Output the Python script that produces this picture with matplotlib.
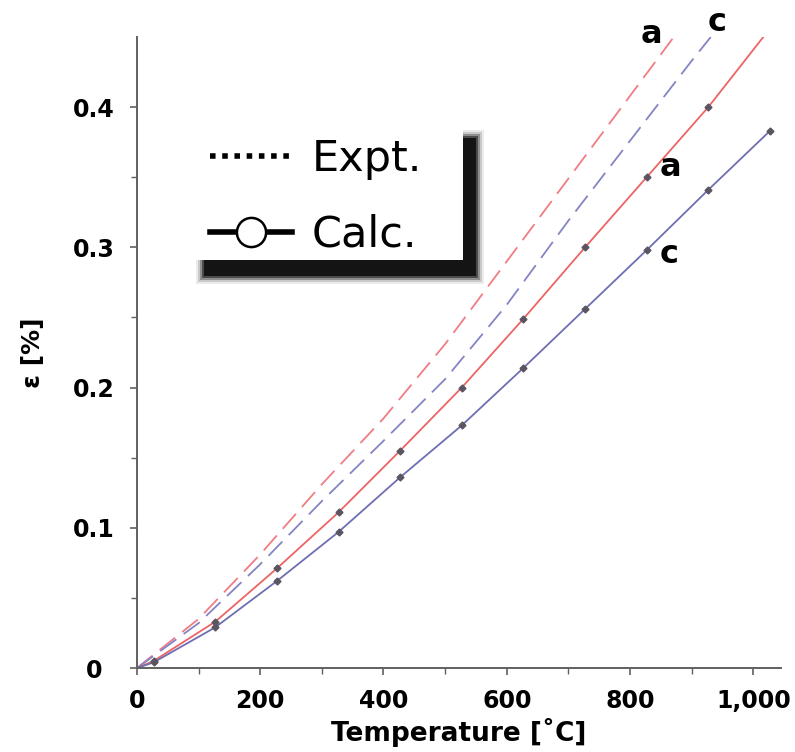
import matplotlib.pyplot as plt
from matplotlib.lines import Line2D
from matplotlib.patches import Rectangle

# Calculated points (T = 300 K ... 1300 K)
temp_calc = [0, 27, 127, 227, 327, 427, 527, 627, 727, 827, 927, 1027]
eps_calc_a = [0, 0.005, 0.033, 0.071, 0.111, 0.155, 0.200, 0.249, 0.300, 0.350, 0.400, 0.456]
eps_calc_c = [0, 0.004, 0.029, 0.062, 0.097, 0.136, 0.173, 0.214, 0.256, 0.298, 0.341, 0.383]

# Experimental curves
temp_expt_a = [0, 100, 200, 300, 400, 500, 600, 700, 800, 871]
eps_expt_a = [0, 0.035, 0.081, 0.131, 0.178, 0.231, 0.290, 0.349, 0.408, 0.450]
temp_expt_c = [0, 100, 200, 300, 400, 500, 600, 700, 800, 900, 931]
eps_expt_c = [0, 0.032, 0.074, 0.119, 0.162, 0.206, 0.259, 0.319, 0.376, 0.433, 0.450]

# curve labels: text, x, y
labels = [('a', 835, 0.452), ('c', 941, 0.460), ('a', 866, 0.357), ('c', 864, 0.295)]

red = '#ec6464'
blue = '#6e6eb2'
red_d = '#f07c84'
blue_d = '#8484c4'
mark = '#5a5560'

fig = plt.figure(figsize=(7.95, 7.52), dpi=100)
ax = fig.add_axes([0.1723, 0.1117, 0.8101, 0.8391])

ax.plot(temp_expt_a, eps_expt_a, color=red_d, lw=1.3, dashes=(11, 5))
ax.plot(temp_expt_c, eps_expt_c, color=blue_d, lw=1.3, dashes=(11, 5))
ax.plot(temp_calc, eps_calc_a, color=red, lw=1.3)
ax.plot(temp_calc, eps_calc_c, color=blue, lw=1.3)
ax.plot(temp_calc[1:], eps_calc_a[1:], ls='none', marker='D', ms=3.5, color=mark)
ax.plot(temp_calc[1:], eps_calc_c[1:], ls='none', marker='D', ms=3.5, color=mark)

for txt, x, y in labels:
    ax.text(x, y, txt, fontsize=23, fontweight='bold', ha='center', va='center',
            clip_on=False)

ax.set_xlim(0, 1045)
ax.set_ylim(0, 0.45)
ax.set_xticks([0, 200, 400, 600, 800, 1000])
ax.set_xticklabels(['0', '200', '400', '600', '800', '1,000'])
ax.set_xticks([100, 300, 500, 700, 900], minor=True)
ax.set_yticks([0, 0.1, 0.2, 0.3, 0.4])
ax.set_yticklabels(['0', '0.1', '0.2', '0.3', '0.4'])
ax.set_yticks([0.05, 0.15, 0.25, 0.35], minor=True)

for s in ['top', 'right']:
    ax.spines[s].set_visible(False)
for s in ['left', 'bottom']:
    ax.spines[s].set_color('#606060')
    ax.spines[s].set_linewidth(1.4)

ax.tick_params(which='major', direction='out', length=5, width=1.2, color='#606060',
               labelsize=17)
ax.tick_params(which='minor', direction='out', length=4, width=1.0, color='#606060')
ax.tick_params(axis='y', pad=26)
ax.tick_params(axis='x', pad=10)
for lab in ax.get_yticklabels() + ax.get_xticklabels():
    lab.set_fontweight('bold')
for lab in ax.get_yticklabels():
    lab.set_ha('center')

ax.set_xlabel('Temperature [˚C]', fontsize=19, fontweight='bold', labelpad=4)
ax.set_ylabel('ε [%]', fontsize=18, fontweight='bold', labelpad=20)

# legend box with soft heavy drop shadow
for grow, alpha in [(7, 0.08), (5, 0.15), (3, 0.3), (1, 0.5), (-1, 0.85)]:
    fig.patches.append(Rectangle(((203 - grow) / 795, (752 - 277 - grow) / 752),
                                 (274 + 2 * grow) / 795, (140 + 2 * grow) / 752,
                                 transform=fig.transFigure, facecolor='#0a0a0a',
                                 edgecolor='none', alpha=alpha, zorder=5))
fig.patches.append(Rectangle((190 / 795, (752 - 260) / 752), 273 / 795, 135 / 752,
                             transform=fig.transFigure, facecolor='white',
                             edgecolor='none', zorder=6))

handles = [Line2D([], [], color='black', lw=4, ls=(0, (1, 1.2))),
           Line2D([], [], color='black', lw=4, marker='o', ms=21,
                  markerfacecolor='white', markeredgecolor='black', markeredgewidth=1.8)]
leg = fig.legend(handles, ['Expt.', 'Calc.'], loc='upper left',
                 bbox_to_anchor=(180 / 795, 1 - 108 / 752), frameon=False,
                 fontsize=31, handlelength=1.9, handletextpad=0.45,
                 labelspacing=0.78, borderpad=0.2)
leg.set_zorder(7)

fig.savefig('out.png', dpi=100)
